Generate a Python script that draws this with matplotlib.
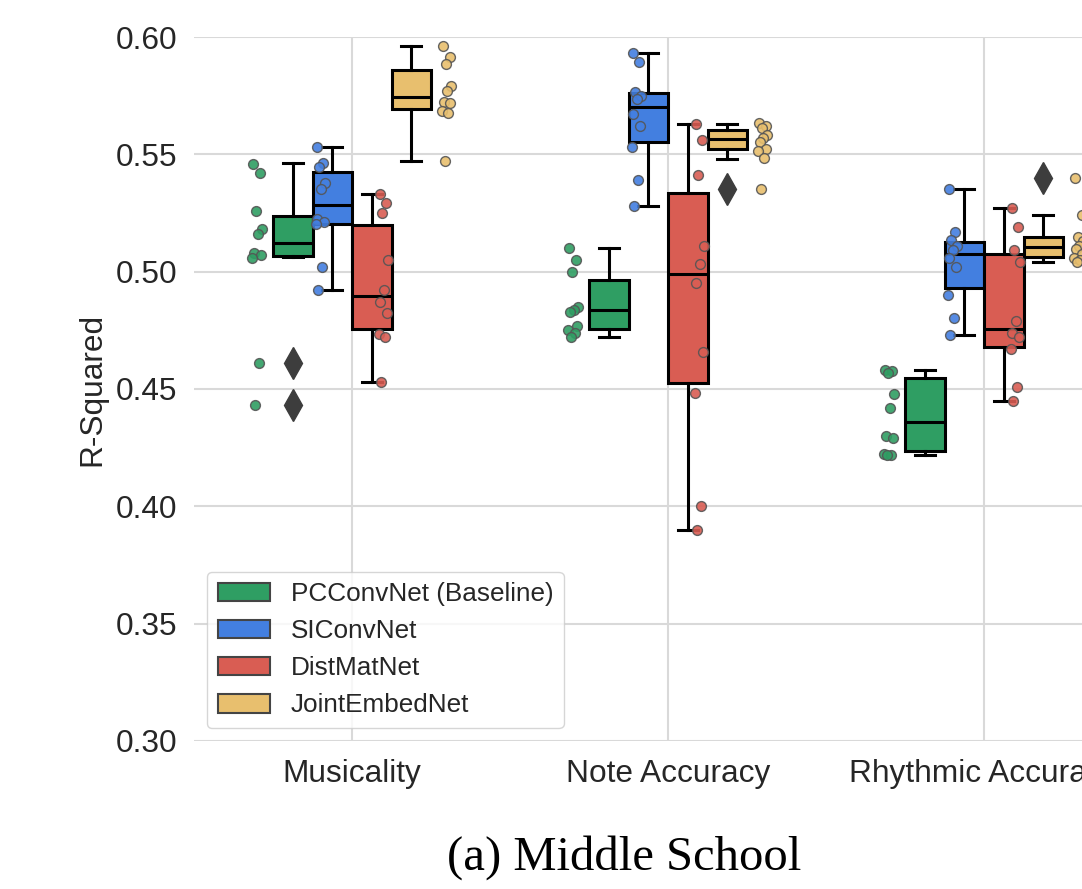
import numpy as np
import matplotlib
matplotlib.use('Agg')
import matplotlib.pyplot as plt
from matplotlib.patches import Patch

# Categorie e modelli
categories = ['Musicality', 'Note Accuracy', 'Rhythmic Accuracy']
models = ['PCConvNet (Baseline)', 'SIConvNet', 'DistMatNet', 'JointEmbedNet']
colors = ['#2F9E63', '#437FE0', '#D95D53', '#E8BF6E']

# Punti (un valore per fold), per categoria
pc_points = [
    [0.546, 0.542, 0.526, 0.518, 0.516, 0.508, 0.507, 0.506, 0.461, 0.443],
    [0.510, 0.505, 0.500, 0.485, 0.4835, 0.483, 0.477, 0.475, 0.474, 0.472],
    [0.458, 0.4578, 0.457, 0.448, 0.442, 0.430, 0.429, 0.4222, 0.422, 0.4219],
]
si_points = [
    [0.5533, 0.5464, 0.5447, 0.5377, 0.5352, 0.5223, 0.5210, 0.5202, 0.5021, 0.4921],
    [0.5930, 0.5892, 0.5764, 0.5750, 0.5735, 0.5672, 0.5621, 0.5533, 0.5391, 0.5281],
    [0.5351, 0.5170, 0.5135, 0.5109, 0.5092, 0.5060, 0.5021, 0.4901, 0.4801, 0.4731],
]
dm_points = [
    [0.5331, 0.5294, 0.5251, 0.5050, 0.4922, 0.4871, 0.4823, 0.4733, 0.4720, 0.4530],
    [0.5629, 0.5561, 0.5412, 0.5111, 0.5031, 0.4950, 0.4659, 0.4482, 0.4001, 0.3899],
    [0.5273, 0.5192, 0.5092, 0.5040, 0.4791, 0.4740, 0.4723, 0.4669, 0.4510, 0.4450],
]
je_points = [
    [0.5963, 0.5913, 0.5884, 0.5793, 0.5771, 0.5724, 0.5720, 0.5685, 0.5675, 0.5472],
    [0.5635, 0.5620, 0.5611, 0.5582, 0.5570, 0.5553, 0.5523, 0.5515, 0.5483, 0.5351],
    [0.5398, 0.5241, 0.5149, 0.5130, 0.5110, 0.5095, 0.5075, 0.5060, 0.5050, 0.5043],
]

# Statistiche dei box
pc_q1 = [0.5067, 0.4754, 0.4236]
pc_med = [0.5121, 0.4837, 0.4358]
pc_q3 = [0.5239, 0.4964, 0.4548]
pc_lo = [0.5064, 0.4720, 0.4219]
pc_hi = [0.5462, 0.5100, 0.4581]
pc_fliers = [[0.461, 0.443], [], []]

si_q1 = [0.5202, 0.5554, 0.4932]
si_med = [0.5284, 0.5703, 0.5075]
si_q3 = [0.5423, 0.5760, 0.5125]
si_lo = [0.4921, 0.5281, 0.4731]
si_hi = [0.5533, 0.5930, 0.5351]
si_fliers = [[], [], []]

dm_q1 = [0.4754, 0.4527, 0.4680]
dm_med = [0.4896, 0.4989, 0.4754]
dm_q3 = [0.5199, 0.5337, 0.5075]
dm_lo = [0.4530, 0.3899, 0.4450]
dm_hi = [0.5331, 0.5629, 0.5270]
dm_fliers = [[], [], []]

je_q1 = [0.5692, 0.5521, 0.5061]
je_med = [0.5746, 0.5567, 0.5106]
je_q3 = [0.5859, 0.5604, 0.5146]
je_lo = [0.5472, 0.5481, 0.5043]
je_hi = [0.5963, 0.5629, 0.5241]
je_fliers = [[], [0.5351], [0.5398]]

all_points = [pc_points, si_points, dm_points, je_points]
all_stats = [
    (pc_q1, pc_med, pc_q3, pc_lo, pc_hi, pc_fliers),
    (si_q1, si_med, si_q3, si_lo, si_hi, si_fliers),
    (dm_q1, dm_med, dm_q3, dm_lo, dm_hi, dm_fliers),
    (je_q1, je_med, je_q3, je_lo, je_hi, je_fliers),
]

plt.rcParams['font.family'] = ['Liberation Sans', 'DejaVu Sans']
text_color = '#262626'

fig = plt.figure(figsize=(10.82, 8.89), dpi=100)
# l'asse continua oltre il bordo destro (immagine ritagliata come l'originale)
ax = fig.add_axes([194 / 1082, 148 / 889, 948 / 1082, 704 / 889])

box_w = 0.125
box_offsets = [-0.1875, -0.0625, 0.0625, 0.1875]
strip_offsets = [-0.3, -0.1, 0.1, 0.3]
jitter = np.array([-0.012, 0.009, -0.004, 0.014, 0.001, -0.010, 0.011, -0.015, 0.005, -0.007])

for m, (stats, pts) in enumerate(zip(all_stats, all_points)):
    q1, med, q3, lo, hi, fl = stats
    bstats = []
    for c in range(len(categories)):
        bstats.append(dict(q1=q1[c], med=med[c], q3=q3[c], whislo=lo[c],
                           whishi=hi[c], fliers=fl[c]))
    pos = [c + box_offsets[m] for c in range(len(categories))]
    ax.bxp(bstats, positions=pos, widths=box_w, capwidths=box_w / 2,
           patch_artist=True, showfliers=True, manage_ticks=False,
           boxprops=dict(facecolor=colors[m], edgecolor='black', linewidth=2.2),
           medianprops=dict(color='black', linewidth=2.2),
           whiskerprops=dict(color='black', linewidth=2.2),
           capprops=dict(color='black', linewidth=2.2),
           flierprops=dict(marker='d', markersize=16, markerfacecolor='#3d3d3d',
                           markeredgecolor='#3d3d3d'),
           zorder=2)
    for c in range(len(categories)):
        y = np.array(pts[c])
        x = c + strip_offsets[m] + jitter[:len(y)]
        ax.scatter(x, y, s=50, color=colors[m], edgecolor='#555555',
                   linewidth=1.0, alpha=0.9, zorder=3)

ax.set_xlim(-0.5, 2.5)
ax.set_ylim(0.30, 0.60)
ax.set_yticks(np.arange(0.30, 0.601, 0.05))
ax.set_yticklabels(['%.2f' % v for v in np.arange(0.30, 0.601, 0.05)])
ax.set_xticks(range(len(categories)))
ax.set_xticklabels(categories)
ax.tick_params(axis='both', length=0, labelsize=22.8, colors=text_color)
ax.tick_params(axis='y', pad=12)
ax.tick_params(axis='x', pad=13)
ax.set_ylabel('R-Squared', fontsize=22.8, color=text_color, labelpad=6)

ax.grid(True, color='#d9d9d9', linewidth=1.5)
ax.set_axisbelow(True)
for s in ax.spines.values():
    s.set_visible(False)

handles = [Patch(facecolor=colors[i], edgecolor='#444444', linewidth=1.5, label=models[i])
           for i in range(len(models))]
leg = ax.legend(handles=handles, loc='lower left', fontsize=18.8, frameon=True,
                labelcolor=text_color, borderaxespad=0.5)
leg.get_frame().set_edgecolor('#cccccc')

fig.text(624 / 1082, 19 / 889, '(a) Middle School', ha='center', va='baseline',
         fontsize=35, family=['Liberation Serif', 'DejaVu Serif'], color='black')

fig.savefig('out.png', dpi=100)
